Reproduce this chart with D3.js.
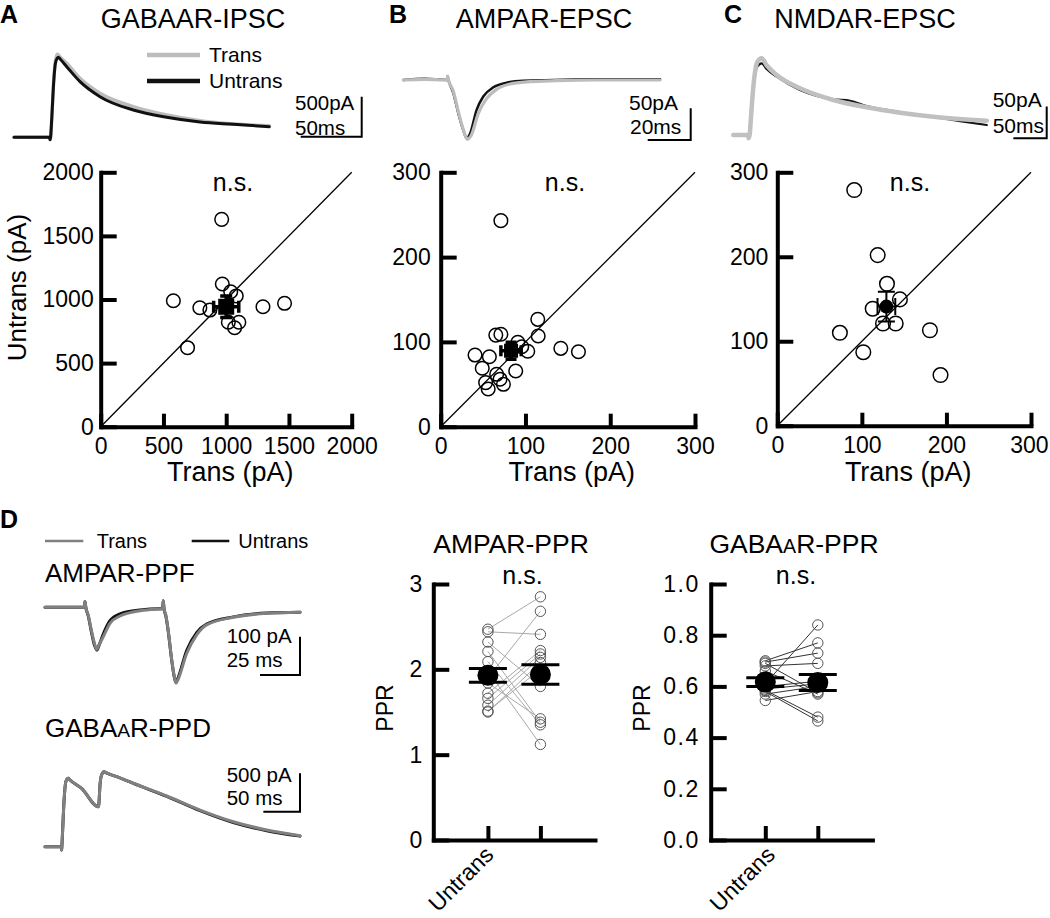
<!DOCTYPE html>
<html><head><meta charset="utf-8">
<script src="https://cdn.jsdelivr.net/npm/d3@7"></script>
<style>
body{margin:0;background:#fff}
svg{display:block;background:#fff}
text{font-family:"Liberation Sans",Arial,Helvetica,sans-serif;fill:#000}
</style>
</head><body>
<svg id="c" width="1050" height="918"></svg>
<script>
// ---------------- DATA ----------------
// Panel A scatter (GABAAR-IPSC amplitudes, pA)
const gabaTrans   = [964, 579, 692, 790, 870, 969, 1036, 1080, 1017, 1101, 1067, 1293, 1465];
const gabaUntrans = [1630, 990, 621, 935, 917, 1122, 1061, 1028, 821, 821, 778, 943, 970];
const gabaMean = [1000, 943];   // [trans, untrans]
const gabaSem  = [100, 85];
// Panel B scatter (AMPAR-EPSC)
const ampaTrans   = [71, 114.5, 115, 65, 71, 91, 95.6, 102.7, 141.7, 162.5, 40.5, 57.4, 49, 88.5, 66, 70, 74, 53, 56];
const ampaUntrans = [243, 126.6, 107, 108, 109, 99.5, 94.3, 89, 92.4, 88.4, 84.5, 82.5, 69, 65.7, 61.8, 56, 50, 52, 44.5];
const ampaMean = [83, 89.6];
const ampaSem  = [12, 10];
// Panel C scatter (NMDAR-EPSC)
const nmdaTrans   = [91, 118.7, 129.7, 145, 112.8, 125, 140, 74, 180.5, 101.7, 193];
const nmdaUntrans = [279, 202, 168, 149.5, 138.5, 121, 121, 110, 113, 87, 60];
const nmdaMean = [129, 141];
const nmdaSem  = [10.5, 17.5];
const gabaTicks = [0, 500, 1000, 1500, 2000];
const epscTicks = [0, 100, 200, 300];

// Panel D paired-pulse ratios
const pprCategories = ["Untrans", "Trans"];
const pprTickLabels = ["Untrans", ""];
const ampaPprUntrans = [2.47, 2.44, 2.32, 2.21, 2.09, 1.98, 1.90, 1.84, 1.72, 1.66, 1.58, 1.51, 1.50];
const ampaPprTrans   = [2.85, 2.41, 1.80, 1.38, 1.35, 1.12, 2.68, 1.42, 2.22, 2.18, 2.14, 2.00, 2.08];
const ampaPprMean = [1.93, 1.94];
const ampaPprSem  = [0.08, 0.115];
const gabaPprUntrans = [0.70, 0.695, 0.69, 0.68, 0.66, 0.61, 0.60, 0.59, 0.585, 0.58, 0.57, 0.545];
const gabaPprTrans   = [0.77, 0.73, 0.575, 0.69, 0.57, 0.84, 0.62, 0.61, 0.48, 0.465, 0.60, 0.58];
const gabaPprMean = [0.617, 0.615];
const gabaPprSem  = [0.017, 0.031];
const ampaPprTicks = [0, 1, 2, 3];
const gabaPprTicks = [0, 0.2, 0.4, 0.6, 0.8, 1.0];

// Example traces [ms, pA]
const ipscTransTrace = [[0,0],[29,0],[29.5,-30],[30,0],[31,250],[32.5,700],[34,950],[35.5,1037],[38,1000],[43.2,925],[54.1,737],[70.5,550],[97.8,383],[125.1,279],[152.5,208],[179.8,166],[209.3,145]];
const ipscUntransTrace = [[0,0],[29,0],[29.5,-30],[30,0],[31,250],[32.5,680],[34,930],[36.3,1000],[38,975],[43.2,883],[54.1,696],[70.5,508],[97.8,341],[125.1,250],[152.5,191],[179.8,162],[209.3,133]];
const ampaTransTrace = [[0,0],[10,1],[20.4,0],[20.6,6],[21,0],[23.3,-18],[25.6,-50],[27.9,-78],[29.8,-93.5],[31.5,-88],[34.9,-52.6],[38.8,-29],[43.4,-14.7],[49.6,-6.3],[58.9,-2.6],[71.3,-1],[90,0],[119.4,0]];
const ampaUntransTrace = [[0,0],[10,2],[20.4,0],[20.6,6],[21,0],[23.3,-21],[25.6,-52.6],[27.9,-79],[29.5,-92],[31,-85],[34.1,-47],[37.2,-26],[41.9,-11.5],[48.1,-4.2],[55.8,-1],[70,0],[90,1],[119.4,1]];
const nmdaTransTrace = [[0,0],[22,0],[23,-5],[24.5,0],[26,20],[28,50],[32,95],[36,115],[42.6,121],[50,110],[65,94.6],[100,73.7],[150,55.2],[200,43.7],[250,35.2],[300,28.9],[380,22.6]];
const nmdaUntransTrace = [[0,0],[22,0],[23,-5],[24.5,0],[26,20],[28,48],[32,90],[36,108],[42.6,113],[50,104],[65,92],[100,71],[150,56.3],[175,54],[200,45.7],[250,36.3],[300,28.4],[340,22],[380,15.8]];
const ppfTransTrace = [[0,0],[24.5,0],[25,15],[25.5,0],[27,-20],[29,-60],[31,-95],[32.3,-110],[33.5,-100],[36.4,-76.8],[40.6,-41.8],[46.9,-22.7],[59.4,-8.9],[71.9,-4.4],[73.5,-4],[73.9,17],[74.4,-4],[75.5,-20],[77,-60],[79,-130],[81,-185],[81.9,-198],[83,-190],[88.6,-120],[94.8,-72],[101,-46],[117.7,-26],[138.6,-15.7],[159.4,-13]];
const ppfUntransTrace = [[0,0],[24.5,0],[25,15],[25.5,0],[27,-22],[29,-64],[31,-100],[32.5,-112],[33.7,-100],[36.4,-70],[40.6,-35],[46.9,-17],[59.4,-7],[71.9,-4],[73.5,-4],[73.9,17],[74.4,-4],[75.5,-22],[77,-62],[79,-132],[81,-186],[81.8,-196],[83,-186],[88.6,-112],[94.8,-66],[101,-44],[117.7,-25],[138.6,-15],[159.4,-13]];
const ppdTransTrace = [[0,0],[22.5,0],[22.7,-44],[23,0],[24,200],[26,600],[28.5,850],[31.8,892],[33,880],[50,760],[72.7,521],[73.5,560],[75,800],[77,930],[80.5,978],[83,965],[97.8,913],[120.5,827],[166,661],[211.5,478],[256.9,326],[302.5,218],[347.9,143]];
const ppdUntransTrace = [[0,0],[22.5,0],[22.7,-44],[23,0],[24,200],[26,600],[28.5,850],[31.8,892],[33,880],[50,760],[72.7,521],[73.5,560],[75,800],[77,930],[80.5,978],[83,965],[97.8,913],[120.5,825],[166,657],[211.5,470],[256.9,315],[302.5,208],[347.9,138]];

// ---------------- DRAWING ----------------
const svg = d3.select("#c");
const FONT = '"Liberation Sans",Arial,Helvetica,sans-serif';

function txt(x, y, s, size, opts = {}) {
  const t = svg.append("text").attr("x", x).attr("y", y).attr("font-size", size)
    .attr("text-anchor", opts.anchor || "start").text(s);
  if (opts.bold) t.attr("font-weight", "bold");
  if (opts.transform) t.attr("transform", opts.transform).attr("x", 0).attr("y", 0);
  return t;
}
function smallCapsA(x, y, pre, post, size, anchor) {
  const t = svg.append("text").attr("x", x).attr("y", y).attr("font-size", size).attr("text-anchor", anchor || "start");
  t.append("tspan").text(pre);
  t.append("tspan").attr("font-size", size * 0.74).text("A");
  t.append("tspan").text(post);
  return t;
}
function traceScales(x0, pxPerMs, base, pxPerPA) {
  return [d3.scaleLinear().domain([0, 1]).range([x0, x0 + pxPerMs]),
          d3.scaleLinear().domain([0, 1]).range([base, base - pxPerPA])];
}
function drawTrace(data, sc, color, w) {
  svg.append("path").datum(data)
    .attr("d", d3.line().x(d => sc[0](d[0])).y(d => sc[1](d[1])).curve(d3.curveMonotoneX))
    .attr("fill", "none").attr("stroke", color).attr("stroke-width", w)
    .attr("stroke-linejoin", "round").attr("stroke-linecap", "round");
}
function scaleBar(sc, cx, cy, ms, pA, w) {
  const dx = sc[0](ms) - sc[0](0), dy = sc[1](0) - sc[1](pA);
  svg.append("path").attr("d", `M${cx - dx},${cy}H${cx}V${cy - dy}`)
    .attr("fill", "none").attr("stroke", "#000").attr("stroke-width", w);
}
function styleAxis(g, size) {
  g.attr("font-size", size).attr("font-family", FONT);
  g.select(".domain").attr("stroke-width", 4).attr("stroke-linecap", "square");
  g.selectAll(".tick line").attr("stroke-width", 4);
  g.selectAll(".tick text").attr("fill", "#000");
}

// Panel letters
txt(0, 23, "A", 25, {bold: true});
txt(389, 23, "B", 25, {bold: true});
txt(724, 23, "C", 25, {bold: true});
txt(0, 528, "D", 25, {bold: true});

// Titles
txt(193, 28, "GABAAR-IPSC", 27, {anchor: "middle"});
txt(544, 28, "AMPAR-EPSC", 27, {anchor: "middle"});
txt(865, 28, "NMDAR-EPSC", 27, {anchor: "middle"});

// ---- Traces A ----
const scA = traceScales(14, 1.22, 137.3, 0.08);
drawTrace(ipscTransTrace, scA, "#bcbcbc", 3.5);
drawTrace(ipscUntransTrace, scA, "#111", 3);
scaleBar(scA, 361.7, 136.7, 50, 500, 2);
txt(295, 110, "500pA", 20.5);
txt(295, 135, "50ms", 20.5);
// legend A
svg.append("line").attr("x1", 147).attr("x2", 200).attr("y1", 55).attr("y2", 55).attr("stroke", "#bcbcbc").attr("stroke-width", 4.5);
svg.append("line").attr("x1", 147).attr("x2", 200).attr("y1", 81).attr("y2", 81).attr("stroke", "#111").attr("stroke-width", 4.5);
txt(209, 62, "Trans", 21);
txt(209, 88, "Untrans", 21);

// ---- Traces B ----
const scB = traceScales(403.3, 2.15, 80, 0.634);
drawTrace(ampaUntransTrace, scB, "#111", 2.5);
drawTrace(ampaTransTrace, scB, "#bcbcbc", 3.2);
scaleBar(scB, 690.7, 140, 20, 50, 2);
txt(629, 110, "50pA", 21);
txt(630, 134.3, "20ms", 21);

// ---- Traces C ----
const scC = traceScales(733.3, 0.667, 135, 0.634);
drawTrace(nmdaUntransTrace, scC, "#111", 2.2);
drawTrace(nmdaTransTrace, scC, "#c0c0c0", 4.5);
scaleBar(scC, 1046.7, 138.3, 50, 50, 2);
txt(992.7, 106.7, "50pA", 21);
txt(992.7, 133.3, "50ms", 21);

// ---- Scatter panels ----
function scatterPanel(p) {
  const x = d3.scaleLinear().domain([0, p.max]).range([p.left, p.right]);
  const y = d3.scaleLinear().domain([0, p.max]).range([p.bottom, p.top]);
  const g = svg.append("g");
  g.append("line").attr("x1", x(0)).attr("y1", y(0)).attr("x2", x(p.max)).attr("y2", y(p.max))
    .attr("stroke", "#000").attr("stroke-width", 1.3);
  const ax = g.append("g").attr("transform", `translate(0,${p.bottom})`)
    .call(d3.axisBottom(x).tickValues(p.ticks).tickSize(-13).tickSizeOuter(0).tickPadding(11).tickFormat(d3.format("d")));
  styleAxis(ax, 23);
  const ay = g.append("g").attr("transform", `translate(${p.left},0)`)
    .call(d3.axisLeft(y).tickValues(p.ticks).tickSize(-16).tickSizeOuter(0).tickPadding(p.ypad).tickFormat(d3.format("d")));
  styleAxis(ay, 23);
  g.selectAll("circle.pt").data(p.trans).join("circle").attr("class", "pt")
    .attr("cx", d => x(d)).attr("cy", (d, i) => y(p.untrans[i])).attr("r", p.r)
    .attr("fill", "none").attr("stroke", "#000").attr("stroke-width", 1.5);
  // mean + sem
  const mx = x(p.mean[0]), my = y(p.mean[1]);
  const xl = x(p.mean[0] - p.sem[0]), xr = x(p.mean[0] + p.sem[0]);
  const yt = y(p.mean[1] + p.sem[1]), yb = y(p.mean[1] - p.sem[1]);
  const c = p.cap / 2;
  g.append("path").attr("d",
      `M${xl},${my}H${xr}M${mx},${yt}V${yb}` +
      `M${xl},${my - c}V${my + c}M${xr},${my - c}V${my + c}` +
      `M${mx - c},${yt}H${mx + c}M${mx - c},${yb}H${mx + c}`)
    .attr("stroke", "#000").attr("stroke-width", p.ebw).attr("fill", "none");
  if (p.shape === "square") {
    g.append("rect").attr("x", mx - p.ms / 2).attr("y", my - p.ms / 2).attr("width", p.ms).attr("height", p.ms).attr("fill", "#000");
  } else {
    g.append("circle").attr("cx", mx).attr("cy", my).attr("r", p.ms / 2).attr("fill", "#000");
  }
  txt(p.nsX, 191, "n.s.", 25, {anchor: "middle"});
  txt((p.left + p.right) / 2 + 4, 481, "Trans (pA)", 27, {anchor: "middle"});
  return ax;
}
scatterPanel({left: 100.7, right: 351.7, top: 172.3, bottom: 426.7, max: 2000, ticks: gabaTicks,
  trans: gabaTrans, untrans: gabaUntrans, mean: gabaMean, sem: gabaSem, shape: "square", ms: 16,
  ebw: 3.5, cap: 12, r: 6.8, nsX: 233, ypad: 7});
scatterPanel({left: 440.7, right: 695, top: 172.3, bottom: 426.7, max: 300, ticks: epscTicks,
  trans: ampaTrans, untrans: ampaUntrans, mean: ampaMean, sem: ampaSem, shape: "square", ms: 14,
  ebw: 3.5, cap: 11, r: 6.8, nsX: 565, ypad: 10});
const axC = scatterPanel({left: 777.3, right: 1031, top: 172.3, bottom: 425.7, max: 300, ticks: epscTicks,
  trans: nmdaTrans, untrans: nmdaUntrans, mean: nmdaMean, sem: nmdaSem, shape: "circle", ms: 14,
  ebw: 2, cap: 17, r: 7.3, nsX: 910, ypad: 9});
axC.selectAll(".tick text").filter(d => d === 300).attr("text-anchor", "end").attr("dx", 17);
txt(0, 0, "Untrans (pA)", 26, {anchor: "middle", transform: "translate(26,287.5) rotate(-90)"});

// ---- Panel D traces ----
svg.append("line").attr("x1", 45).attr("x2", 83.3).attr("y1", 541).attr("y2", 541).attr("stroke", "#808080").attr("stroke-width", 2.5);
svg.append("line").attr("x1", 191.7).attr("x2", 229.3).attr("y1", 541).attr("y2", 541).attr("stroke", "#111").attr("stroke-width", 2.5);
txt(96.7, 548, "Trans", 20);
txt(238.3, 548, "Untrans", 20);
txt(45, 581.7, "AMPAR-PPF", 26);
smallCapsA(45, 736.7, "GABA", "R-PPD", 26);

const scPPF = traceScales(45, 1.6, 607.3, 0.383);
drawTrace(ppfUntransTrace, scPPF, "#111", 3);
drawTrace(ppfTransTrace, scPPF, "#808080", 3);
scaleBar(scPPF, 300, 675, 25, 100, 2);
txt(226.7, 643.3, "100 pA", 20.5);
txt(226.7, 666.7, "25 ms", 20.5);

const scPPD = traceScales(45, 0.733, 846.7, 0.0767);
drawTrace(ppdUntransTrace, scPPD, "#111", 3);
drawTrace(ppdTransTrace, scPPD, "#808080", 3);
scaleBar(scPPD, 300, 811.7, 50, 500, 2);
txt(226.7, 781.7, "500 pA", 20.5);
txt(226.7, 805, "50 ms", 20.5);

// ---- PPR panels ----
function pprPanel(p) {
  const x = d3.scalePoint().domain(pprCategories).range([p.left, p.left + 161.7]).padding(1.04);
  const y = d3.scaleLinear().domain([0, p.max]).range([840, 584]);
  const g = svg.append("g");
  const ax = g.append("g").attr("transform", "translate(0,840)")
    .call(d3.axisBottom(x).tickSize(-14).tickSizeOuter(0).tickFormat(""));
  styleAxis(ax, 22);
  const ay = g.append("g").attr("transform", `translate(${p.left},0)`)
    .call(d3.axisLeft(y).tickValues(p.ticks).tickSize(-16).tickSizeOuter(0).tickPadding(11).tickFormat(p.fmt));
  styleAxis(ay, 23);
  ay.selectAll(".tick text").attr("letter-spacing", p.ls);
  pprCategories.forEach((c, i) => {
    if (pprTickLabels[i]) txt(0, 0, pprTickLabels[i], 23, {anchor: "end",
      transform: `translate(${x(c) + p.lblDx},856) rotate(-45)`});
  });
  g.selectAll("line.pair").data(p.untrans).join("line").attr("class", "pair")
    .attr("x1", x(pprCategories[0])).attr("y1", d => y(d))
    .attr("x2", x(pprCategories[1])).attr("y2", (d, i) => y(p.trans[i]))
    .attr("stroke", p.lineColor).attr("stroke-width", 1);
  const pts = p.untrans.map(v => [pprCategories[0], v]).concat(p.trans.map(v => [pprCategories[1], v]));
  g.selectAll("circle.pt").data(pts).join("circle").attr("class", "pt")
    .attr("cx", d => x(d[0])).attr("cy", d => y(d[1])).attr("r", 5.2)
    .attr("fill", "none").attr("stroke", "#555").attr("stroke-width", 1);
  pprCategories.forEach((c, i) => {
    const cx = x(c), m = p.mean[i], s = p.sem[i];
    g.append("circle").attr("cx", cx).attr("cy", y(m)).attr("r", 10.5).attr("fill", "#000");
    g.append("path").attr("d", `M${cx},${y(m + s)}V${y(m - s)}M${cx - 19},${y(m + s)}H${cx + 19}M${cx - 19},${y(m - s)}H${cx + 19}`)
      .attr("stroke", "#000").attr("stroke-width", 3).attr("fill", "none");
  });
  txt(p.nsX, 584, "n.s.", 25, {anchor: "middle"});
  txt(0, 0, "PPR", 23, {anchor: "middle", transform: `translate(${p.labX},708) rotate(-90)`});
}
pprPanel({left: 433.3, max: 3, ticks: ampaPprTicks, fmt: d3.format("d"), ls: 0,
  untrans: ampaPprUntrans, trans: ampaPprTrans, mean: ampaPprMean, sem: ampaPprSem,
  lineColor: "#a8a8a8", nsX: 522.5, labX: 393.3, lblDx: 7});
pprPanel({left: 710.7, max: 1, ticks: gabaPprTicks, fmt: d3.format(".1f"), ls: 1.5,
  untrans: gabaPprUntrans, trans: gabaPprTrans, mean: gabaPprMean, sem: gabaPprSem,
  lineColor: "#333", nsX: 796, labX: 650, lblDx: 11});
txt(511, 553.3, "AMPAR-PPR", 26.5, {anchor: "middle"});
smallCapsA(794, 553.3, "GABA", "R-PPR", 26.5, "middle");
</script>
</body></html>
